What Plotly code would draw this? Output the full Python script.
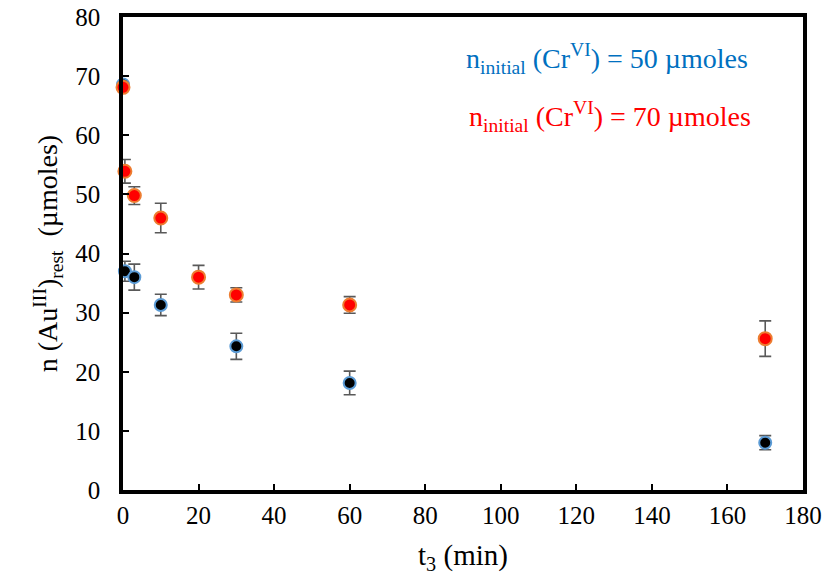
import plotly.graph_objects as go

# Cr(VI) initial = 50 µmoles
t_50 = [0, 0.5, 3, 10, 30, 60, 170]
n_50 = [68.6, 37.0, 36.0, 31.3, 24.3, 18.1, 8.0]
err_50 = [0, 1.7, 2.2, 1.8, 2.2, 2.0, 1.2]

# Cr(VI) initial = 70 µmoles
t_70 = [0, 0.5, 3, 10, 20, 30, 60, 170]
n_70 = [68.1, 53.9, 49.8, 46.0, 36.0, 33.0, 31.3, 25.6]
err_70 = [0, 2.0, 1.5, 2.5, 2.0, 1.2, 1.4, 3.0]

x_ticks = [0, 20, 40, 60, 80, 100, 120, 140, 160, 180]
y_ticks = [0, 10, 20, 30, 40, 50, 60, 70, 80]

FONT = "Liberation Serif, Times New Roman, serif"
ERR_COLOR = "#595959"

fig = go.Figure()
fig.add_trace(go.Scatter(
    x=t_50, y=n_50, mode="markers",
    error_y=dict(type="data", array=err_50, visible=True, color=ERR_COLOR, thickness=1.6, width=6),
    marker=dict(size=12, color="black", line=dict(color="#5B9BD5", width=2)),
    showlegend=False, cliponaxis=False,
))
fig.add_trace(go.Scatter(
    x=t_70, y=n_70, mode="markers",
    error_y=dict(type="data", array=err_70, visible=True, color=ERR_COLOR, thickness=1.6, width=6),
    marker=dict(size=13, color="#FF0000", line=dict(color="#ED7D31", width=2)),
    showlegend=False, cliponaxis=False,
))

fig.add_annotation(x=0.712, y=0.913, xref="paper", yref="paper", showarrow=False,
                   xanchor="center", yanchor="middle",
                   text="n<sub>initial</sub> (Cr<sup>VI</sup>) = 50 µmoles",
                   font=dict(family=FONT, size=28, color="#0070C0"))
fig.add_annotation(x=0.716, y=0.789, xref="paper", yref="paper", showarrow=False,
                   xanchor="center", yanchor="middle",
                   text="n<sub>initial</sub> (Cr<sup>VI</sup>) = 70 µmoles",
                   font=dict(family=FONT, size=28, color="#FF0000"))

fig.update_layout(
    width=829, height=587,
    margin=dict(l=123, r=26, t=17, b=97),
    plot_bgcolor="white", paper_bgcolor="white",
    font=dict(family=FONT, size=25, color="black"),
    xaxis=dict(range=[0, 180], tickvals=x_ticks, ticks="inside", ticklen=6, tickwidth=1.5,
               tickcolor="black", showline=True, linecolor="black", linewidth=3.5, mirror=True,
               showgrid=False, zeroline=False, automargin=False, ticklabeloverflow="allow",
               title=dict(text="t<sub>3</sub> (min)", font=dict(family=FONT, size=29), standoff=18),
               tickfont=dict(family=FONT, size=25)),
    yaxis=dict(range=[0, 80], tickvals=y_ticks, ticks="inside", ticklen=6, tickwidth=1.5,
               tickcolor="black", showline=True, linecolor="black", linewidth=3.5, mirror=True,
               showgrid=False, zeroline=False, automargin=False, ticklabelstandoff=14,
               ticklabeloverflow="allow",
               title=dict(text="n (Au<sup>III</sup>)<sub>rest</sub>  (µmoles)", font=dict(family=FONT, size=28), standoff=10),
               tickfont=dict(family=FONT, size=25)),
)

fig.write_html("out.html", config={"displayModeBar": False},
               post_script="document.body.style.margin='0';document.body.style.overflow='hidden';")
